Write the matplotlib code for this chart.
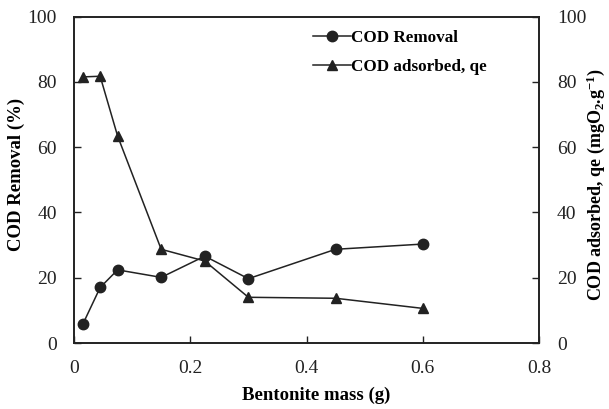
import matplotlib
matplotlib.use("Agg")
import matplotlib.pyplot as plt

plt.rcParams['font.family'] = ['Liberation Serif', 'DejaVu Serif']
plt.rcParams['mathtext.fontset'] = 'custom'
plt.rcParams['mathtext.rm'] = 'Liberation Serif:bold'
plt.rcParams['mathtext.bf'] = 'Liberation Serif:bold'
plt.rcParams['mathtext.it'] = 'Liberation Serif:bold'

# Bentonite dose (g) and measured responses
bentonite_mass = [0.015, 0.045, 0.075, 0.15, 0.225, 0.3, 0.45, 0.6]
cod_removal = [5.7, 17.0, 22.4, 20.1, 26.6, 19.7, 28.7, 30.3]
cod_adsorbed = [81.5, 81.7, 63.4, 28.7, 25.1, 14.0, 13.7, 10.6]

x_ticks = [0, 0.2, 0.4, 0.6, 0.8]
x_ticklabels = ['0', '0.2', '0.4', '0.6', '0.8']
y_ticks = [0, 20, 40, 60, 80, 100]

ink = '#222222'

fig = plt.figure(figsize=(6.09, 4.09), dpi=100)
ax = fig.add_axes([74 / 609, 1 - 343 / 409, (539 - 74) / 609, (343 - 16.5) / 409])
ax2 = ax.twinx()

l1, = ax.plot(bentonite_mass, cod_removal, color=ink, lw=1.1,
              marker='o', markersize=7.5, label='COD Removal')
l2, = ax2.plot(bentonite_mass, cod_adsorbed, color=ink, lw=1.1,
               marker='^', markersize=7.5, label='COD adsorbed, qe')

for a in (ax, ax2):
    a.set_ylim(0, 100)
    a.set_yticks(y_ticks)
    a.set_xlim(0, 0.8)
    for s in a.spines.values():
        s.set_linewidth(1.2)
        s.set_color(ink)

ax.set_xticks(x_ticks)
ax.set_xticklabels(x_ticklabels)
ax.tick_params(axis='both', direction='in', length=5, width=1, labelsize=14,
               colors=ink)
ax.tick_params(axis='y', pad=12.5)
ax.tick_params(axis='x', pad=12)
ax2.tick_params(axis='y', direction='in', length=5, width=1, labelsize=14,
                pad=13, colors=ink)

ax.set_xlabel('Bentonite mass (g)', fontsize=13.5, fontweight='bold')
ax.set_ylabel('COD Removal (%)', fontsize=13.5, fontweight='bold')
ax2.set_ylabel(r'COD adsorbed, qe (mgO$_\mathbf{2}$.g$^\mathbf{-1}$)', fontsize=13,
               fontweight='bold')

ax.xaxis.set_label_coords(0.52, -0.159)
ax.xaxis.label.set_va('center')
ax.yaxis.set_label_coords(-0.124, 0.516)
ax.yaxis.label.set_va('center')
ax2.yaxis.set_label_coords(1.122, 0.485)
ax2.yaxis.label.set_va('center')

ax.legend(handles=[l1, l2], loc='upper left', bbox_to_anchor=(0.514, 0.958),
          frameon=False, prop={'weight': 'bold', 'size': 12.3},
          handlelength=2.2, handletextpad=0.0, labelspacing=0.75,
          borderpad=0, borderaxespad=0)

fig.savefig('out.png', dpi=100)
